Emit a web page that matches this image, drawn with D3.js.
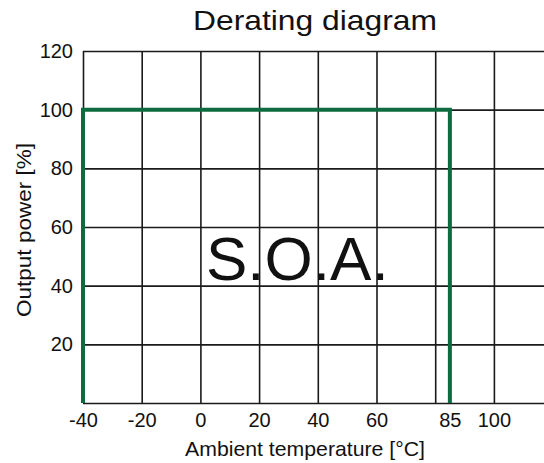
<!DOCTYPE html>
<html><head><meta charset="utf-8">
<script src="https://cdn.jsdelivr.net/npm/d3@7"></script>
<style>body{margin:0;background:#fff}svg{display:block}text{font-family:"Liberation Sans",Arial,sans-serif;fill:#111}</style>
</head><body><div id="chart"></div>
<script>
const title = "Derating diagram";
const xLabel = "Ambient temperature [°C]";
const yLabel = "Output power [%]";
const areaLabel = "S.O.A.";
const xGrid = [-40, -20, 0, 20, 40, 60, 80, 100, 120];
const xTickLabels = [-40, -20, 0, 20, 40, 60, 85, 100];
const yGrid = [0, 20, 40, 60, 80, 100, 120];
const yTickLabels = [20, 40, 60, 80, 100, 120];
const curveTemp = [-40, -40, 85, 85];
const curvePower = [0, 100, 100, 0];

const W = 544, H = 463;
const svg = d3.select("#chart").append("svg").attr("width", W).attr("height", H);
const x = d3.scaleLinear().domain([-40, 120]).range([83, 552.6]);
const y = d3.scaleLinear().domain([0, 120]).range([403, 51]);
const fmt = d => String(d);

// grid
svg.append("g").attr("transform", `translate(0,${y(0)})`)
  .call(d3.axisBottom(x).tickValues(xGrid).tickSize(-(y(0) - y(120))).tickFormat(""))
  .call(g => g.select(".domain").remove())
  .call(g => g.selectAll("line").attr("stroke", "#1a1a1a").attr("stroke-width", 1.6));
svg.append("g").attr("transform", `translate(${x(-40)},0)`)
  .call(d3.axisLeft(y).tickValues(yGrid).tickSize(-(x(120) - x(-40))).tickFormat(""))
  .call(g => g.select(".domain").remove())
  .call(g => g.selectAll("line").attr("stroke", "#1a1a1a").attr("stroke-width", 1.6));

// tick labels
svg.append("g").attr("transform", `translate(0,${y(0)})`)
  .call(d3.axisBottom(x).tickValues(xTickLabels).tickSize(0).tickPadding(10).tickFormat(fmt))
  .call(g => g.select(".domain").remove())
  .call(g => g.selectAll("text").attr("font-size", 20).attr("font-family", "Liberation Sans, Arial, sans-serif").attr("fill", "#111"));
svg.append("g").attr("transform", `translate(${x(-40)},0)`)
  .call(d3.axisLeft(y).tickValues(yTickLabels).tickSize(0).tickPadding(10).tickFormat(fmt))
  .call(g => g.select(".domain").remove())
  .call(g => g.selectAll("text").attr("font-size", 20).attr("font-family", "Liberation Sans, Arial, sans-serif").attr("fill", "#111"));

// curve
const pts = curveTemp.map((t, i) => [t, curvePower[i]]);
svg.append("path").datum(pts)
  .attr("d", d3.line().x(d => x(d[0])).y(d => y(d[1])))
  .attr("fill", "none").attr("stroke", "#0c6b3f").attr("stroke-width", 4)
  .attr("stroke-linejoin", "miter");

// SOA label
svg.append("text").attr("x", 206).attr("y", 280).attr("font-size", 62).text(areaLabel);

// titles
svg.append("text").attr("x", 315).attr("y", 30).attr("text-anchor", "middle")
  .attr("font-size", 28).attr("textLength", 244).attr("lengthAdjust", "spacingAndGlyphs").text(title);
svg.append("text").attr("x", 305).attr("y", 456).attr("text-anchor", "middle")
  .attr("font-size", 21).attr("textLength", 240).attr("lengthAdjust", "spacingAndGlyphs").text(xLabel);
svg.append("text").attr("transform", "translate(31,230) rotate(-90)").attr("text-anchor", "middle")
  .attr("font-size", 21).attr("textLength", 174).attr("lengthAdjust", "spacingAndGlyphs").text(yLabel);
</script></body></html>
